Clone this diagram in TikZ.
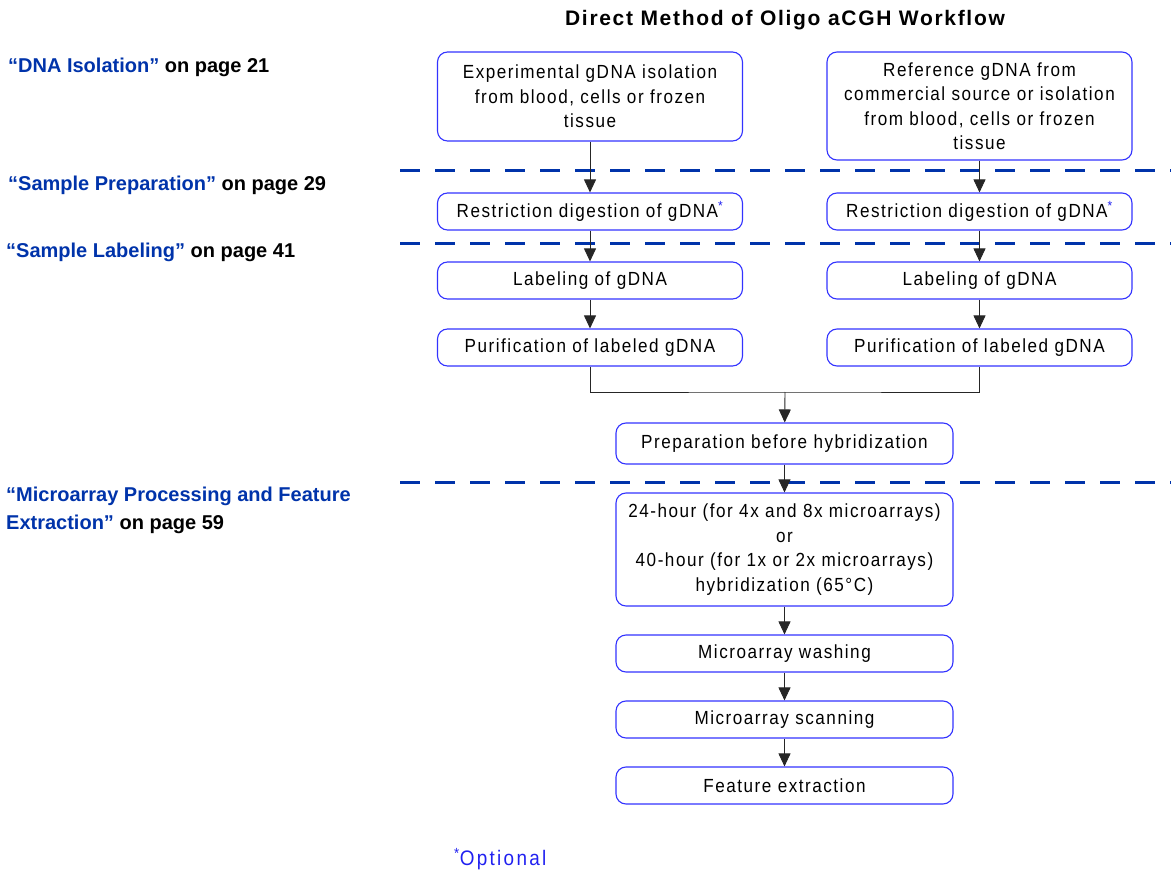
\documentclass[tikz,border=0pt]{standalone}
\usepackage{fontspec}
\setmainfont{Liberation Sans}
\newfontfamily\boxfont{Liberation Sans}[FakeStretch=0.9,LetterSpace=8]
\newfontfamily\titlefont{Liberation Sans}[LetterSpace=8]
\newfontfamily\optfont{Liberation Sans}[FakeStretch=0.9,LetterSpace=11]
\usetikzlibrary{positioning,arrows.meta}
\definecolor{linkblue}{HTML}{0033AA}
\definecolor{boxblue}{HTML}{3333FF}
\definecolor{optblue}{HTML}{2020F0}
\newcommand*\optmark{\textsuperscript{\textcolor{optblue}{*}}}
\newcommand*\seclink[2]{\textcolor{linkblue}{“#1”} on page #2}

\begin{document}
\begin{tikzpicture}[x=1pt,y=-1pt,line cap=butt,
  flowbox/.style={draw=boxblue,line width=1.1pt,rounded corners=10pt,fill=white,
    inner xsep=5pt,inner ysep=0pt,text width=295pt,minimum height=37pt,align=center,
    font=\boxfont\fontsize{19}{24.5}\selectfont},
  widebox/.style={flowbox,text width=327pt},
  arr/.style={draw=black!85,line width=0.9pt,-{Triangle[length=13pt,width=12pt]}},
  link/.style={anchor=west,font=\bfseries\fontsize{20}{28}\selectfont,align=left,inner sep=0pt},
  divider/.style={draw=linkblue,line width=3pt,dash pattern=on 20pt off 15pt}
]
\useasboundingbox (0,0) rectangle (1171,872);

% title
\node[font=\titlefont\bfseries\fontsize{21}{24}\selectfont] (title) at (785,20) {Direct Method of Oligo aCGH Workflow};

% dividers
\draw[divider] (400,171) -- (1171,171);
\draw[divider] (400,243) -- (1171,243);
\draw[divider] (400,482) -- (1171,482);

% left column
\node[flowbox,minimum height=89pt] (expL) at (590,96.5) {Experimental gDNA isolation\\ from blood, cells or frozen\\ tissue};
\node[flowbox] (digL) at (590,211.5) {Restriction digestion of gDNA\optmark};
\node[flowbox] (labL) at (590,280.5) {Labeling of gDNA};
\node[flowbox] (purL) at (590,347.5) {Purification of labeled gDNA};

% right column
\node[flowbox,minimum height=108pt] (refR) at (979.5,106) {Reference gDNA from\\ commercial source or isolation\\ from blood, cells or frozen\\ tissue};
\node[flowbox] (digR) at (979.5,211.5) {Restriction digestion of gDNA\optmark};
\node[flowbox] (labR) at (979.5,280.5) {Labeling of gDNA};
\node[flowbox] (purR) at (979.5,347.5) {Purification of labeled gDNA};

% common steps
\node[widebox,minimum height=41pt] (prep) at (784.5,443.5) {Preparation before hybridization};
\node[widebox,minimum height=113pt] (hyb) at (784.5,549.5) {24-hour (for 4x and 8x microarrays)\\ or\\ 40-hour (for 1x or 2x microarrays)\\ hybridization (65\textdegree C)};
\node[widebox] (wash) at (784.5,653.5) {Microarray washing};
\node[widebox] (scan) at (784.5,719.5) {Microarray scanning};
\node[widebox] (feat) at (784.5,785.5) {Feature extraction};

\coordinate (merge) at (785,392);

\draw[arr] (expL) -- (digL);
\draw[arr] (digL) -- (labL);
\draw[arr] (labL) -- (purL);
\draw[arr] (refR) -- (digR);
\draw[arr] (digR) -- (labR);
\draw[arr] (labR) -- (purR);
\draw[draw=black!85,line width=0.9pt] (purL.south) |- (merge) -| (purR.south);
\draw[arr] (merge) -- (prep);
\draw[arr] (prep) -- (hyb);
\draw[arr] (hyb) -- (wash);
\draw[arr] (wash) -- (scan);
\draw[arr] (scan) -- (feat);

% section references
\node[link] (isol) at (8,67) {\seclink{DNA Isolation}{21}};
\node[link] (prepref) at (8,185) {\seclink{Sample Preparation}{29}};
\node[link] (labref) at (6,252) {\seclink{Sample Labeling}{41}};
\node[link] (procref) at (6,510) {\textcolor{linkblue}{“Microarray Processing and Feature}\\ \textcolor{linkblue}{Extraction”} on page 59};

\node[anchor=west,inner sep=0pt,font=\optfont\fontsize{21}{24}\selectfont,text=optblue] (opt) at (454,859) {\textsuperscript{*}Optional};
\end{tikzpicture}
\end{document}
